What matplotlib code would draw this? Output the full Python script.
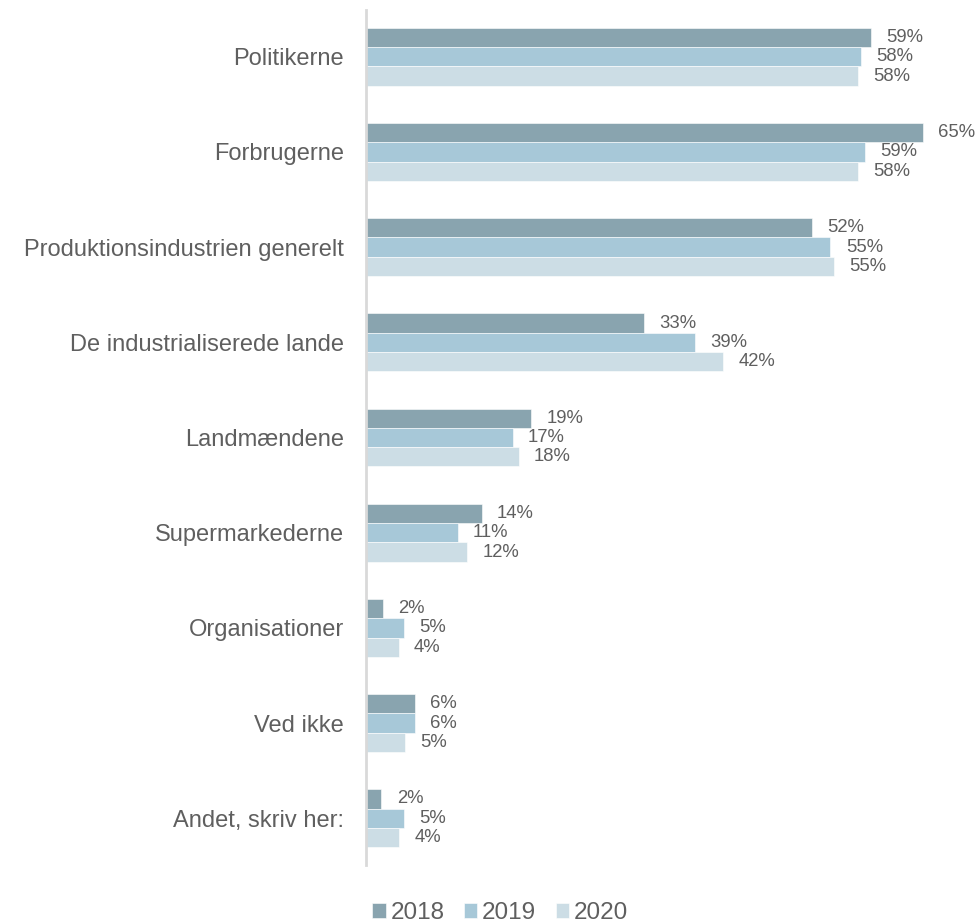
import numpy as np
import matplotlib.pyplot as plt

# data
categories = ['Politikerne', 'Forbrugerne', 'Produktionsindustrien generelt',
              'De industrialiserede lande', 'Landmændene', 'Supermarkederne',
              'Organisationer', 'Ved ikke', 'Andet, skriv her:']
years = ['2018', '2019', '2020']
v2018 = [58.9, 65.0, 52.0, 32.4, 19.3, 13.5, 2.0, 5.7, 1.8]
v2019 = [57.8, 58.2, 54.2, 38.4, 17.1, 10.7, 4.4, 5.7, 4.4]
v2020 = [57.4, 57.4, 54.6, 41.7, 17.8, 11.8, 3.8, 4.5, 3.9]
labels2018 = [59, 65, 52, 33, 19, 14, 2, 6, 2]
labels2019 = [58, 59, 55, 39, 17, 11, 5, 6, 5]
labels2020 = [58, 58, 55, 42, 18, 12, 4, 5, 4]

# style
colors = ['#89A4AF', '#A7C8D8', '#CCDDE5']
text_col = '#5f5f5f'
plt.rcParams['font.family'] = ['Liberation Sans', 'DejaVu Sans']

fig = plt.figure(figsize=(9.77, 9.24), dpi=100)
ax = fig.add_axes([0.3746, 0.064, 0.614, 0.925])

y = np.arange(len(categories))
h = 0.203
series = [v2018, v2019, v2020]
lbls = [labels2018, labels2019, labels2020]
for i in range(3):
    bars = ax.barh(y + (i - 1) * h, series[i], height=h, color=colors[i],
                   edgecolor='white', linewidth=0.4, label=years[i])
    ax.bar_label(bars, labels=[str(v) + '%' for v in lbls[i]], padding=11,
                 fontsize=13.3, color=text_col)

ax.set_xlim(0, 70)
ax.set_ylim(8.49, -0.49)
ax.set_yticks(y)
ax.set_yticklabels(categories, fontsize=17, color=text_col)
ax.tick_params(axis='y', length=0, pad=16)
ax.set_xticks([])
for s in ['top', 'right', 'bottom']:
    ax.spines[s].set_visible(False)
ax.spines['left'].set_color('#D9D9D9')
ax.spines['left'].set_linewidth(2)

leg = fig.legend(loc='lower center', bbox_to_anchor=(0.512, -0.024), ncol=3,
                 frameon=False, fontsize=17.5, handlelength=0.55, handleheight=0.55,
                 handletextpad=0.2, columnspacing=0.8)
for t in leg.get_texts():
    t.set_color(text_col)

fig.savefig('out.png', dpi=100)
